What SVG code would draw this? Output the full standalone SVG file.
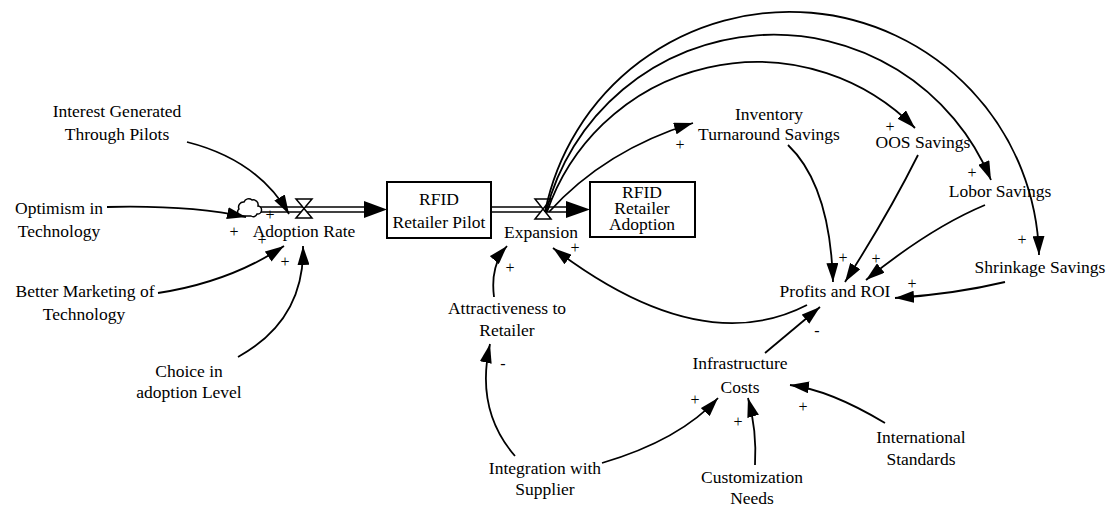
<svg xmlns="http://www.w3.org/2000/svg" width="1107" height="506" viewBox="0 0 1107 506" font-family="'Liberation Serif', 'Times New Roman', 'DejaVu Serif', serif">
<style>
text{font-family:'Liberation Serif','Times New Roman','DejaVu Serif',serif}
.t{font-size:17.5px;fill:#000;text-anchor:middle}
.p{font-size:16px;fill:#000;text-anchor:middle}
.lk{fill:none;stroke:#000;stroke-width:1.8;marker-end:url(#ah)}
.box{fill:#fff;stroke:#000;stroke-width:2}
.valve{fill:#fff;stroke:#000;stroke-width:1.5}
.pipeO{fill:none;stroke:#000;stroke-width:6.5}
.pipeI{fill:none;stroke:#fff;stroke-width:3.5}
</style>
<defs>
<marker id="ah" markerUnits="userSpaceOnUse" markerWidth="19" markerHeight="12" viewBox="0 0 19 12" refX="19" refY="6" orient="auto"><path d="M0,0 L19,6 L0,12 z" fill="#000"/></marker>
</defs>
<rect width="1107" height="506" fill="#fff"/>

<g id="flows">
<path class="pipeO" d="M257,209.5 H367"/>
<path class="pipeI" d="M257,209.5 H367"/>
<polygon points="387,209.5 364,201 364,218" fill="#000"/>
<path class="pipeO" d="M491,209.5 H568"/>
<path class="pipeI" d="M491,209.5 H568"/>
<polygon points="590,209.5 566,201 566,218" fill="#000"/>
<path id="cloud" d="M241,216 A4,4 0 0 1 239,209 A5,5 0 0 1 244,202 A5,5 0 0 1 252,200 A5,5 0 0 1 258,206 A4,4 0 0 1 257,214 A4,4 0 0 1 251,216 Z" fill="#fff" stroke="#000" stroke-width="1.5"/>
<polygon class="valve" points="296,199 312,199 296,218 312,218"/>
<polygon class="valve" points="535,199 551,199 535,219 551,219"/>
</g>

<g id="node-interest"><text class="t" x="117" y="117">Interest Generated</text><text class="t" x="117" y="140">Through Pilots</text></g>
<g id="node-optimism"><text class="t" x="59" y="214">Optimism in</text><text class="t" x="59" y="237">Technology</text></g>
<g id="node-adoption-rate"><text class="t" x="304" y="237">Adoption Rate</text></g>
<g id="node-marketing"><text class="t" x="85" y="297">Better Marketing of</text><text class="t" x="84" y="320">Technology</text></g>
<g id="node-choice"><text class="t" x="189" y="377">Choice in</text><text class="t" x="189" y="398">adoption Level</text></g>
<g id="node-pilot"><rect class="box" x="387" y="182" width="104" height="56"/><text class="t" x="439" y="205">RFID</text><text class="t" x="439" y="228">Retailer Pilot</text></g>
<g id="node-expansion"><text class="t" x="541" y="238">Expansion</text></g>
<g id="node-adoption"><rect class="box" x="590" y="182" width="105" height="55"/><text class="t" x="642" y="198">RFID</text><text class="t" x="642" y="214">Retailer</text><text class="t" x="642" y="230">Adoption</text></g>
<g id="node-inventory"><text class="t" x="769" y="120">Inventory</text><text class="t" x="769" y="140">Turnaround Savings</text></g>
<g id="node-oos"><text class="t" x="923" y="148">OOS Savings</text></g>
<g id="node-lobor"><text class="t" x="1000" y="197">Lobor Savings</text></g>
<g id="node-shrinkage"><text class="t" x="1040" y="273">Shrinkage Savings</text></g>
<g id="node-profits"><text class="t" x="835" y="297">Profits and ROI</text></g>
<g id="node-attractiveness"><text class="t" x="507" y="314">Attractiveness to</text><text class="t" x="507" y="336">Retailer</text></g>
<g id="node-infrastructure"><text class="t" x="740" y="369">Infrastructure</text><text class="t" x="740" y="393">Costs</text></g>
<g id="node-integration"><text class="t" x="545" y="474">Integration with</text><text class="t" x="545" y="495">Supplier</text></g>
<g id="node-customization"><text class="t" x="752" y="483">Customization</text><text class="t" x="752" y="504">Needs</text></g>
<g id="node-international"><text class="t" x="921" y="443">International</text><text class="t" x="921" y="465">Standards</text></g>

<g id="connectors">
<path class="lk" d="M187,142 Q258,160 289,214"/>
<path class="lk" d="M107,207 Q190,205 246,217"/>
<path class="lk" d="M158,293 Q230,282 284,246"/>
<path class="lk" d="M238,357 Q305,320 303,246"/>
<path class="lk" d="M494,297 Q490,265 507,246"/>
<path class="lk" d="M807,305 Q700,360 553,248"/>
<path class="lk" d="M515,456 Q475,410 490,344"/>
<path class="lk" d="M602,463 Q680,440 718,398"/>
<path class="lk" d="M755,465 Q757,430 748,398"/>
<path class="lk" d="M885,423 Q830,390 790,385"/>
<path class="lk" d="M765,353 L820,307"/>
<path class="lk" d="M788,145 Q830,185 833,282"/>
<path class="lk" d="M918,155 Q888,215 845,282"/>
<path class="lk" d="M985,205 Q930,228 866,280"/>
<path class="lk" d="M1005,282 Q955,294 895,298"/>
<path class="lk" d="M549,212 Q605,150 693,123"/>
<path class="lk" d="M547,212 A222,222 0 0 1 915,128"/>
<path class="lk" d="M546,212 A235,235 0 0 1 991,180"/>
<path class="lk" d="M545,212 A249.5,249.5 0 0 1 1039,255"/>
</g>

<g id="polarities">
<text class="p" x="234" y="237">+</text>
<text class="p" x="270" y="220">+</text>
<text class="p" x="262" y="245">+</text>
<text class="p" x="285" y="267">+</text>
<text class="p" x="510" y="273">+</text>
<text class="p" x="575" y="253">+</text>
<text class="p" x="503" y="369">-</text>
<text class="p" x="695" y="405">+</text>
<text class="p" x="738" y="427">+</text>
<text class="p" x="803" y="412">+</text>
<text class="p" x="817" y="336">-</text>
<text class="p" x="843" y="263">+</text>
<text class="p" x="876" y="264">+</text>
<text class="p" x="912" y="289">+</text>
<text class="p" x="680" y="150">+</text>
<text class="p" x="890" y="132">+</text>
<text class="p" x="972" y="178">+</text>
<text class="p" x="1022" y="245">+</text>
</g>
</svg>
